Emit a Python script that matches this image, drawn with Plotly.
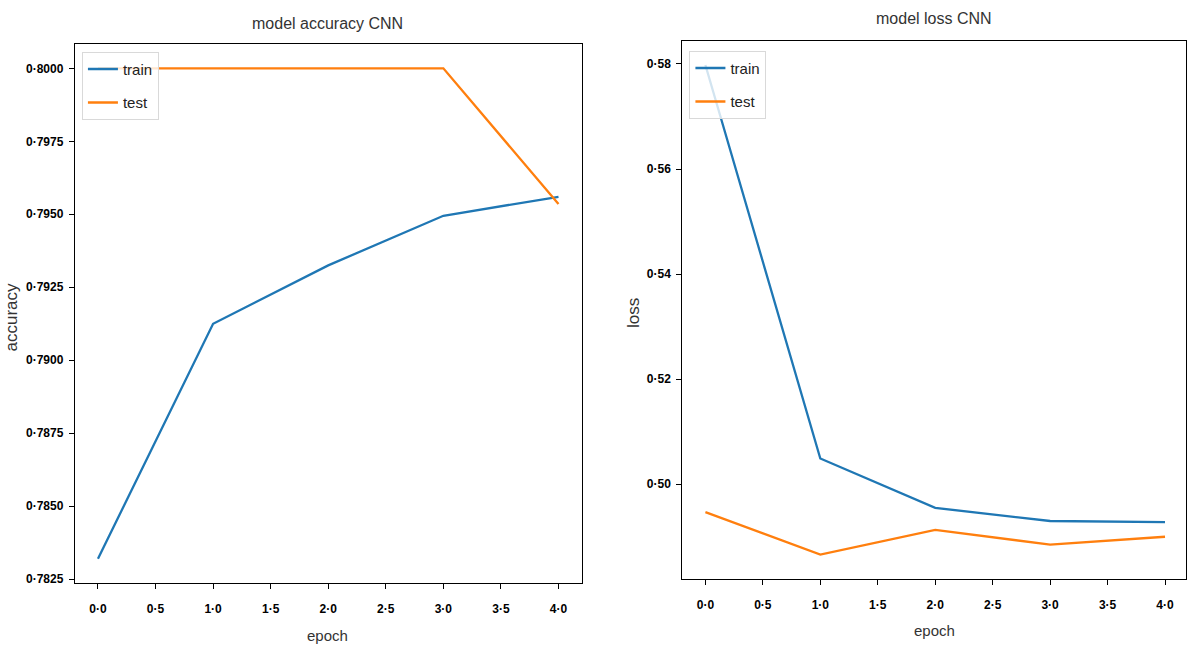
import plotly.graph_objects as go

# Training history of the CNN (5 epochs)
epochs = [0, 1, 2, 3, 4]
acc_train = [0.7832, 0.79125, 0.79325, 0.79495, 0.7956]
acc_test = [0.8000, 0.8000, 0.8000, 0.8000, 0.79535]
loss_train = [0.5798, 0.5049, 0.4955, 0.4930, 0.4928]
loss_test = [0.4947, 0.4866, 0.4913, 0.4885, 0.4900]

x_ticks = [0, 0.5, 1, 1.5, 2, 2.5, 3, 3.5, 4]
x_tick_text = ["0·0", "0·5", "1·0", "1·5", "2·0", "2·5", "3·0", "3·5", "4·0"]
acc_ticks = [0.7825, 0.7850, 0.7875, 0.7900, 0.7925, 0.7950, 0.7975, 0.8000]
acc_tick_text = ["0·7825", "0·7850", "0·7875", "0·7900", "0·7925", "0·7950", "0·7975", "0·8000"]
loss_ticks = [0.50, 0.52, 0.54, 0.56, 0.58]
loss_tick_text = ["0·50", "0·52", "0·54", "0·56", "0·58"]

W, H = 1187, 649
BLUE = "#1f77b4"
ORANGE = "#ff7f0e"
PLAIN = "Liberation Sans, Arial, sans-serif"


def px_x(p):
    return p / W


def px_y(p):
    return 1 - p / H


fig = go.Figure()

fig.add_trace(go.Scatter(x=epochs, y=acc_train, mode="lines", name="train",
                         line=dict(color=BLUE, width=2.3), xaxis="x", yaxis="y",
                         legend="legend", legendgroup="a1"))
fig.add_trace(go.Scatter(x=epochs, y=acc_test, mode="lines", name="test",
                         line=dict(color=ORANGE, width=2.3), xaxis="x", yaxis="y",
                         legend="legend", legendgroup="a2"))
fig.add_trace(go.Scatter(x=epochs, y=loss_train, mode="lines", name="train",
                         line=dict(color=BLUE, width=2.3), xaxis="x2", yaxis="y2",
                         legend="legend2", legendgroup="b1"))
fig.add_trace(go.Scatter(x=epochs, y=loss_test, mode="lines", name="test",
                         line=dict(color=ORANGE, width=2.3), xaxis="x2", yaxis="y2",
                         legend="legend2", legendgroup="b2"))

axis_common = dict(showgrid=False, zeroline=False, showline=True, linecolor="black",
                   linewidth=1.3, mirror=True, ticks="outside", ticklen=5,
                   tickwidth=1.2, tickcolor="black",
                   tickfont=dict(family=PLAIN, size=12, color="black", weight="bold"))

legend_common = dict(xanchor="left", yanchor="top",
                     bgcolor="rgba(255,255,255,0.8)", bordercolor="#d9d9d9", borderwidth=1,
                     font=dict(family=PLAIN, size=15, color="#222"), tracegroupgap=11,
                     itemwidth=30)

fig.update_layout(
    width=W, height=H,
    margin=dict(l=0, r=0, t=0, b=0),
    plot_bgcolor="white", paper_bgcolor="white",
    xaxis=dict(domain=[px_x(75), px_x(582)], range=[-0.2, 4.2], anchor="y",
               tickvals=x_ticks, ticktext=x_tick_text, ticklabelstandoff=9, **axis_common),
    yaxis=dict(domain=[px_y(586), px_y(44)], range=[0.78236, 0.80084], anchor="x",
               tickvals=acc_ticks, ticktext=acc_tick_text, ticklabelstandoff=3, **axis_common),
    xaxis2=dict(domain=[px_x(683), 1.0], range=[-0.2, (1187 - 706) / 115], anchor="y2",
                tickvals=x_ticks, ticktext=x_tick_text, ticklabelstandoff=9, **axis_common),
    yaxis2=dict(domain=[px_y(582), px_y(41)], range=[0.4819, 0.5844], anchor="x2",
                tickvals=loss_ticks, ticktext=loss_tick_text, ticklabelstandoff=3, **axis_common),
    legend=dict(x=px_x(82), y=px_y(52), **legend_common),
    legend2=dict(x=px_x(690), y=px_y(51), **legend_common),
)

annotations = [
    dict(text="model accuracy CNN", x=px_x(328), y=px_y(24), size=16),
    dict(text="model loss CNN", x=px_x(935), y=px_y(19), size=16),
    dict(text="epoch", x=px_x(328), y=px_y(638), size=15),
    dict(text="epoch", x=px_x(935), y=px_y(633), size=15),
    dict(text="accuracy", x=px_x(12), y=px_y(318), size=17, angle=-90),
    dict(text="loss", x=px_x(634), y=px_y(314), size=17, angle=-90),
]
for a in annotations:
    fig.add_annotation(text=a["text"], x=a["x"], y=a["y"], xref="paper", yref="paper",
                       xanchor="center", yanchor="middle", showarrow=False,
                       textangle=a.get("angle", 0),
                       font=dict(family=PLAIN, size=a["size"], color="#333"))

fig.write_html("out.html")
